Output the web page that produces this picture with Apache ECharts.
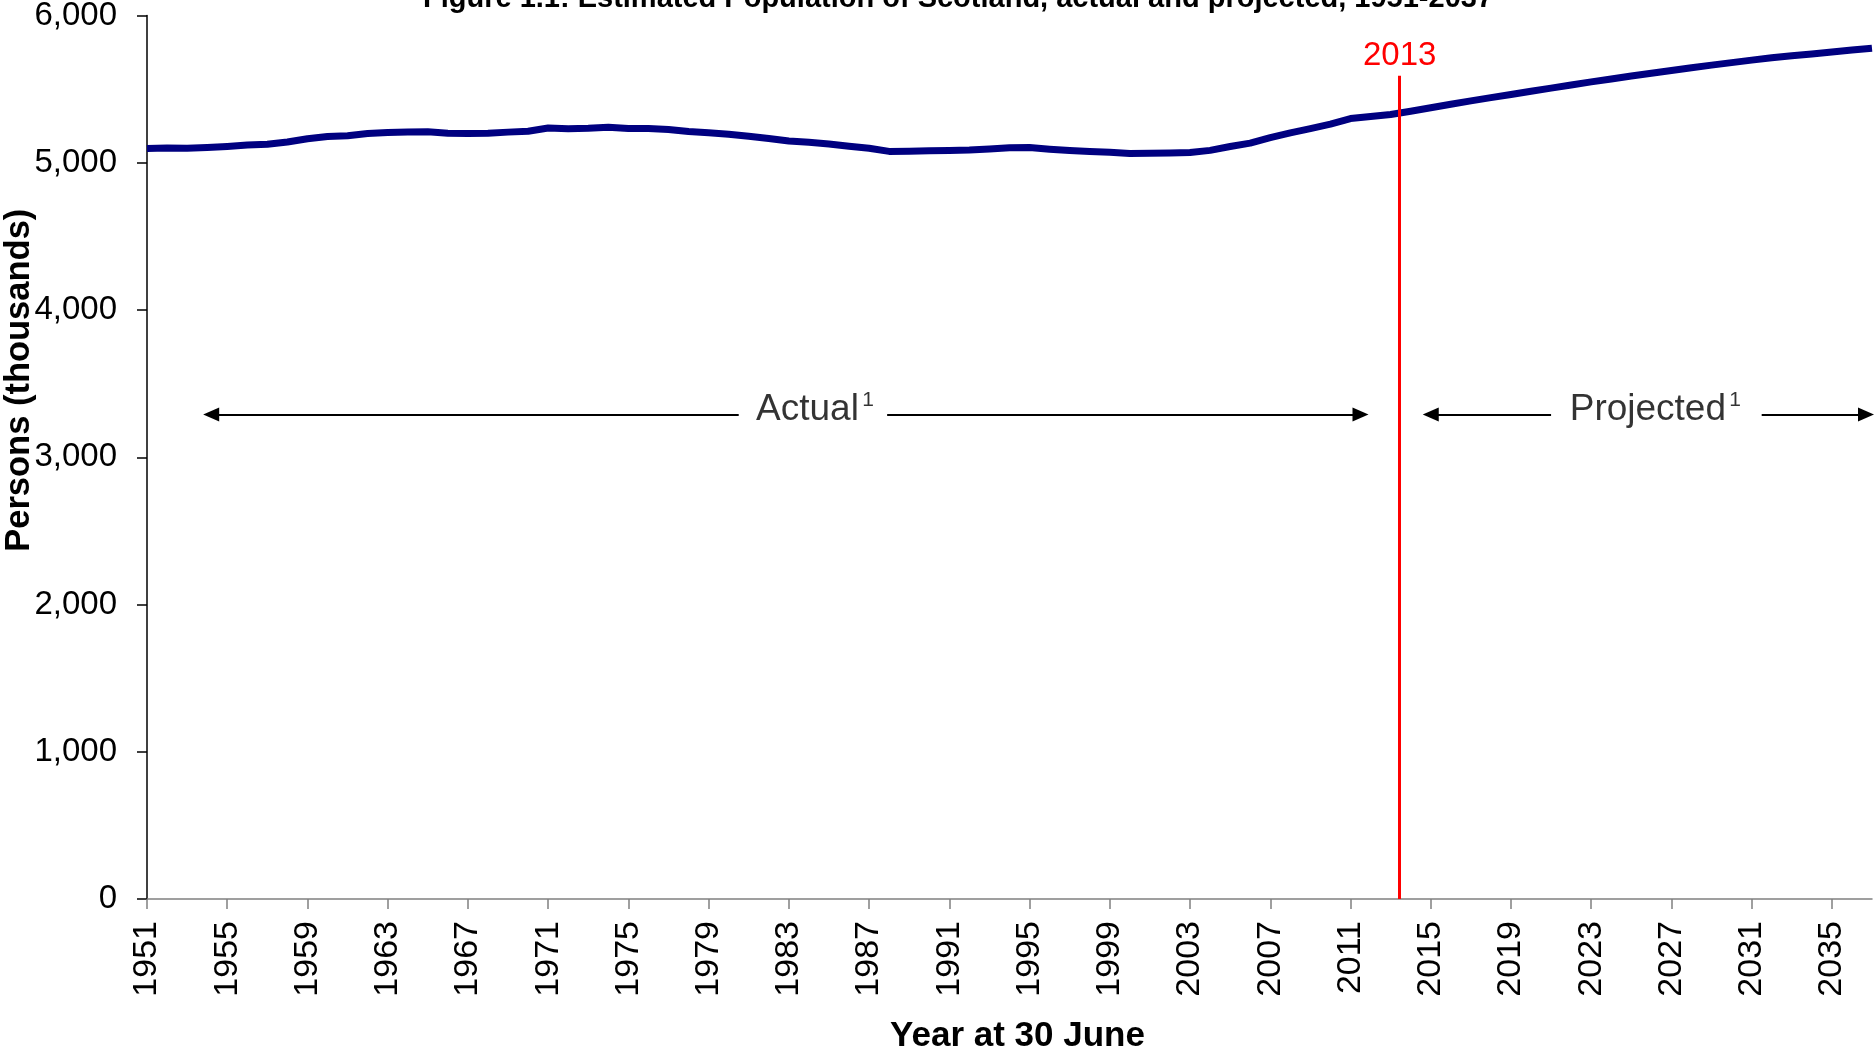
<!DOCTYPE html>
<html>
<head>
<meta charset="utf-8">
<title>Estimated Population of Scotland</title>
<script src="https://cdn.jsdelivr.net/npm/echarts@6/dist/echarts.min.js"></script>
<style>
  html, body { margin: 0; padding: 0; background: #fff; }
  #chart { width: 1875px; height: 1049px; }
</style>
</head>
<body>
<div id="chart"></div>
<script>
// mid-year population, thousands
const years = [
  1951, 1952, 1953, 1954, 1955, 1956, 1957, 1958, 1959, 1960,
  1961, 1962, 1963, 1964, 1965, 1966, 1967, 1968, 1969, 1970,
  1971, 1972, 1973, 1974, 1975, 1976, 1977, 1978, 1979, 1980,
  1981, 1982, 1983, 1984, 1985, 1986, 1987, 1988, 1989, 1990,
  1991, 1992, 1993, 1994, 1995, 1996, 1997, 1998, 1999, 2000,
  2001, 2002, 2003, 2004, 2005, 2006, 2007, 2008, 2009, 2010,
  2011, 2012, 2013, 2014, 2015, 2016, 2017, 2018, 2019, 2020,
  2021, 2022, 2023, 2024, 2025, 2026, 2027, 2028, 2029, 2030,
  2031, 2032, 2033, 2034, 2035, 2036, 2037
]
const population = [
  5096, 5100, 5099, 5104, 5111, 5120, 5125, 5141, 5163, 5178,
  5184, 5198, 5205, 5209, 5210, 5201, 5198, 5200, 5208, 5214,
  5236, 5231, 5234, 5241, 5232, 5233, 5226, 5212, 5204, 5194,
  5180, 5165, 5148, 5139, 5128, 5112, 5099, 5077, 5078, 5081,
  5083, 5086, 5093, 5102, 5104, 5092, 5083, 5077, 5072, 5063,
  5064, 5066, 5069, 5084, 5110, 5133, 5170, 5203, 5232, 5262,
  5300, 5314, 5328, 5350, 5374, 5397, 5420, 5442, 5464, 5486,
  5507, 5528, 5549, 5569, 5589, 5608, 5627, 5645, 5663, 5680,
  5697, 5713, 5726, 5739, 5752, 5765, 5778
]
const tickYears = [
  1951, 1955, 1959, 1963, 1967, 1971, 1975, 1979, 1983, 1987, 1991,
  1995, 1999, 2003, 2007, 2011, 2015, 2019, 2023, 2027, 2031, 2035
]

// annotations
const baseYear = 2013
const baseYearPos = 2013.45
const baseLineTop = 5590
const arrowLevel = 3290
const actualArrow = [1954.2, 1980.5, 1987.9, 2011.5]
const projectedArrow = [2015.0, 2021.0, 2031.5, 2036.7]
const notes = [
  { text: 'Actual', year: 1984.3 },
  { text: 'Projected', year: 2026.2 },
]

const FONT = '"Liberation Sans", Arial, sans-serif'

function arrowPair(p) {
  const head = { symbol: 'triangle', symbolSize: [14, 16] }
  return [
    [{ coord: [p[0], arrowLevel], ...head }, { coord: [p[1], arrowLevel], symbol: 'none' }],
    [{ coord: [p[2], arrowLevel], symbol: 'none' }, { coord: [p[3], arrowLevel], ...head }],
  ]
}

const chart = echarts.init(document.getElementById('chart'), null, { renderer: 'canvas' })

chart.setOption({
  animation: false,
  backgroundColor: '#fff',
  textStyle: { fontFamily: FONT },
  title: {
    text: 'Figure 1.1: Estimated Population of Scotland, actual and projected, 1951-2037',
    left: 958,
    top: -16,
    padding: 0,
    textAlign: 'center',
    textStyle: { fontFamily: FONT, fontSize: 29, fontWeight: 'bold', color: '#000' },
  },
  grid: { left: 147, right: 3, top: 15.5, bottom: 150, outerBoundsMode: 'none', containLabel: false },
  xAxis: {
    type: 'value',
    min: 1951,
    max: 2037,
    name: 'Year at 30 June',
    nameLocation: 'middle',
    nameGap: 120,
    nameMoveOverlap: false,
    nameTextStyle: {
      fontFamily: FONT, fontSize: 35, fontWeight: 'bold', color: '#000',
      padding: [0, 0, 0, 16],
    },
    splitLine: { show: false },
    axisLine: { lineStyle: { color: '#808080', width: 1.5 } },
    axisTick: { show: true, length: 10, customValues: tickYears, lineStyle: { color: '#808080', width: 1.5 } },
    axisLabel: {
      customValues: tickYears,
      rotate: 90,
      margin: 22,
      fontSize: 34,
      color: '#000',
      fontFamily: FONT,
      formatter: v => String(v),
    },
  },
  yAxis: {
    type: 'value',
    min: 0,
    max: 6000,
    interval: 1000,
    name: 'Persons (thousands)',
    nameLocation: 'middle',
    nameRotate: 90,
    nameGap: 110,
    nameMoveOverlap: false,
    nameTextStyle: {
      fontFamily: FONT, fontSize: 34.5, fontWeight: 'bold', color: '#000',
      padding: [0, 0, 0, 154],
    },
    splitLine: { show: false },
    axisLine: { show: true, lineStyle: { color: '#000', width: 1.5 } },
    axisTick: { show: true, length: 10, lineStyle: { color: '#000', width: 1.5 } },
    axisLabel: {
      margin: 30,
      fontSize: 33,
      color: '#000',
      fontFamily: FONT,
      formatter: v => v.toLocaleString('en-US'),
    },
  },
  series: [
    {
      name: 'Population',
      type: 'line',
      data: years.map((y, i) => [y, population[i]]),
      showSymbol: false,
      symbol: 'none',
      lineStyle: { color: '#000080', width: 7, join: 'round' },
      z: 3,
      markLine: {
        silent: true,
        symbol: 'none',
        z: 4,
        lineStyle: { color: '#FF0000', width: 3, type: 'solid' },
        label: {
          show: true,
          position: 'end',
          distance: 3,
          formatter: String(baseYear),
          color: '#FF0000',
          fontSize: 33,
          fontFamily: FONT,
        },
        data: [[{ coord: [baseYearPos, 0] }, { coord: [baseYearPos, baseLineTop] }]],
      },
    },
    {
      name: 'Notes',
      type: 'scatter',
      symbolSize: 0,
      silent: true,
      data: notes.map(n => ({ value: [n.year, arrowLevel], name: n.text })),
      label: {
        show: true,
        position: 'inside',
        offset: [0, -5],
        color: '#000',
        textBorderWidth: 0,
        formatter: p => '{t|' + p.name + '} {s|1}',
        rich: {
          t: { fontSize: 37, color: '#000', fontFamily: FONT, textBorderWidth: 0 },
          s: { fontSize: 21, color: '#000', fontFamily: FONT, textBorderWidth: 0, padding: [0, 0, 18, 0] },
        },
      },
      markLine: {
        silent: true,
        lineStyle: { color: '#000', width: 2, type: 'solid' },
        itemStyle: { color: '#000' },
        label: { show: false },
        data: arrowPair(actualArrow).concat(arrowPair(projectedArrow)),
      },
    },
  ],
})

window.addEventListener('resize', () => chart.resize())
</script>
</body>
</html>
